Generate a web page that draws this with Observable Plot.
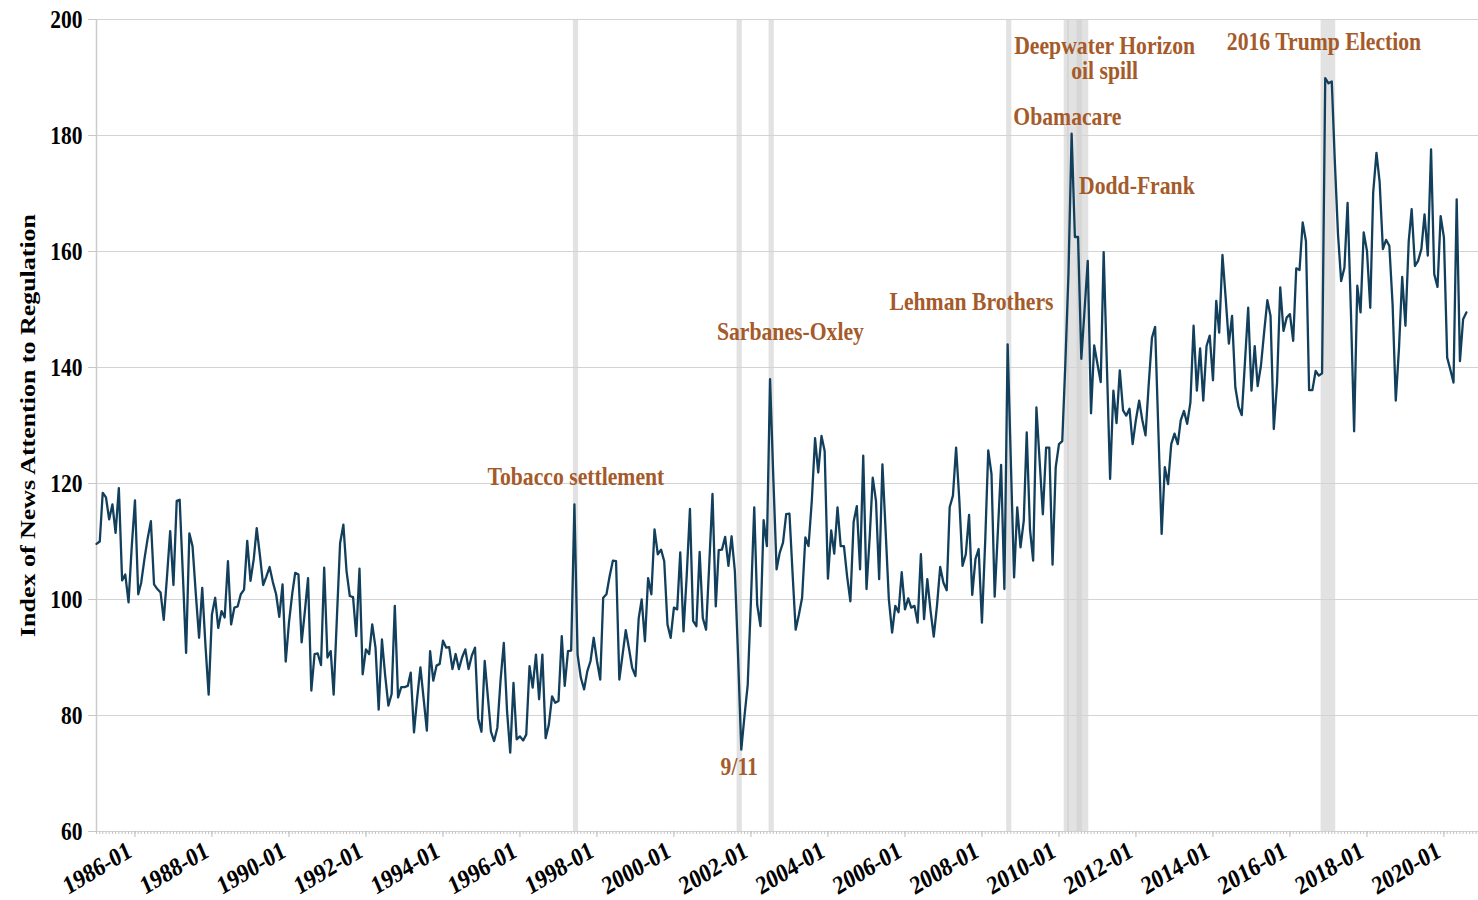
<!DOCTYPE html>
<html>
<head>
<meta charset="utf-8">
<script src="https://cdn.jsdelivr.net/npm/d3@7"></script>
<script src="https://cdn.jsdelivr.net/npm/@observablehq/plot@0.6"></script>
<style>
  html, body { margin: 0; padding: 0; background: #fff; }
  #chart { width: 1478px; height: 900px; }
</style>
</head>
<body>
<div id="chart"></div>
<script>
// ---- Data (monthly index, starting January 1985) ----
const firstMonth = "1985-01";
const regulationIndex = [
  109.6, 110, 118.4, 117.6, 113.8, 116.4, 111.5, 119.2, 103.3, 104.3, 99.5, 109,
  117.1, 100.9, 102.9, 107, 110.5, 113.5, 102.6, 101.8, 101.2, 96.5, 104, 111.8,
  102.5, 117, 117.2, 104, 90.8, 111.4, 109.2, 101, 93.4, 102, 92, 83.6,
  97.4, 100.3, 95.1, 98, 96.9, 106.6, 95.7, 98.6, 98.8, 100.9, 101.7, 110.1,
  103.2, 107, 112.3, 107.5, 102.5, 104, 105.6, 103, 100.9, 97, 102.6, 89.3,
  96, 101, 104.6, 104.3, 92.6, 98, 103.7, 84.3, 90.6, 90.7, 88.7, 105.5,
  90, 91.1, 83.6, 97, 109.7, 112.9, 104.9, 100.6, 100.4, 93.7, 105.3, 87.1,
  91.4, 90.6, 95.7, 91.7, 81, 93.1, 87, 81.7, 83.7, 98.9, 83.1, 84.9,
  84.9, 85.1, 87.4, 77.1, 83, 88.3, 83, 77.4, 91.1, 86, 88.6, 88.9,
  92.9, 91.7, 91.8, 88, 90.6, 88, 90, 91.4, 88, 90.3, 91.7, 79.5,
  77.2, 89.4, 83.6, 77.2, 75.6, 77.9, 86, 92.5, 80.7, 73.6, 85.6, 75.9,
  76.4, 75.7, 76.7, 88.5, 84.8, 90.5, 82.8, 90.5, 76.1, 78.4, 83.3, 82.2,
  82.5, 93.7, 85.1, 91.1, 91.2, 116.4, 90.5, 86.5, 84.5, 87.6, 89.4, 93.4,
  89.4, 86.2, 100.3, 100.9, 104, 106.7, 106.6, 86.2, 90.5, 94.7, 91.5, 88.2,
  86.8, 96.8, 100, 92.8, 103.7, 100.9, 112.1, 107.8, 108.6, 106.6, 95.7, 93.4,
  98.6, 98.3, 108.1, 94.5, 104, 115.6, 96.3, 95.4, 108.2, 96.8, 94.8, 106,
  118.2, 98.8, 108.5, 108.6, 110.8, 105.8, 110.9, 104.9, 90, 74.1, 80, 85.3,
  100, 115.9, 99.1, 95.4, 113.7, 109.2, 138, 121, 105.2, 108.1, 109.8, 114.7,
  114.8, 104, 94.8, 97.4, 100.3, 110.7, 109.2, 117, 127.8, 121.9, 128.2, 125.6,
  103.6, 111.9, 107.9, 115.9, 109.2, 109.2, 104, 99.7, 113.4, 116.1, 105.2, 124.8,
  101.8, 111, 121, 117, 103.5, 123.3, 112, 100, 94.3, 98.9, 97.8, 104.7,
  98.3, 100.2, 98.6, 98.9, 96, 107.8, 96.6, 103.5, 98, 93.6, 99, 105.6,
  102.9, 101.6, 115.9, 117.9, 126.2, 117, 105.8, 107.8, 114.6, 100.8, 107, 108.7,
  96, 110, 125.7, 121.6, 100.5, 112, 123.2, 101.8, 144, 124, 103.8, 115.9,
  109, 113.6, 128.8, 112.1, 106.7, 133.1, 124, 114.7, 126.2, 126.2, 106, 122.8,
  126.8, 127.3, 140, 156.1, 180.3, 162.5, 162.5, 141.5, 150, 158.4, 132.1, 143.8,
  140.6, 137.5, 159.9, 140, 120.8, 136, 130.4, 139.5, 132.6, 131.7, 132.9, 126.8,
  131, 134.3, 131, 128.3, 137, 145.1, 147, 129, 111.3, 122.8, 119.9, 126.8,
  128.6, 126.8, 130.9, 132.5, 130.3, 134, 147.2, 136, 143.3, 134.3, 143.7, 145.5,
  137.8, 151.5, 146, 159.4, 152.1, 144.1, 148.9, 136.6, 133.2, 131.8, 141.1, 150.3,
  136, 143.7, 136.8, 140.3, 146, 151.6, 148.9, 129.4, 137.4, 153.8, 146.3, 148.6,
  149.2, 144.6, 157.1, 156.8, 165, 161.8, 136.1, 136.1, 139.4, 138.6, 139, 189.9,
  189, 189.3, 176, 163, 154.9, 157.2, 168.4, 150, 129, 154.1, 149.5, 163.3,
  160.1, 150.3, 170.2, 177, 172, 160.4, 162, 161, 150.9, 134.3, 143.4, 155.6,
  147.2, 161.8, 167.3, 157.5, 158.4, 160.4, 166.4, 159.3, 177.6, 156.1, 153.9, 166.1,
  162.4, 141.7, 139.7, 137.4, 169, 141.1, 148.3, 149.5
];

// Event windows (shaded bands)
const eventNames  = ["Tobacco settlement", "9/11", "Sarbanes-Oxley", "Lehman Brothers", "Obamacare", "Deepwater Horizon oil spill", "Dodd-Frank", "2016 Trump Election"];
const eventStarts = ["1997-06", "2001-09", "2002-07", "2008-09", "2010-03", "2010-04", "2010-07", "2016-11"];
const eventEnds   = ["1997-07", "2001-10", "2002-08", "2008-10", "2010-04", "2010-10", "2010-08", "2017-03"];

// Annotation texts with anchor (date, index value)
const noteTexts = ["Tobacco settlement", "9/11", "Sarbanes-Oxley", "Lehman Brothers", "Obamacare", "Dodd-Frank", "Deepwater Horizon\noil spill", "2016 Trump Election"];
const noteDates = ["1997-06-15", "2001-09-12", "2003-01-10", "2007-09-24", "2010-03-21", "2012-01-10", "2011-03-10", "2016-11-19"];
const noteValues = [121.2, 71.2, 146.2, 151.4, 183.3, 171.4, 193.3, 196.2];

// Axes
const yTicks = [60, 80, 100, 120, 140, 160, 180, 200];
const xTickLabels = ["1986-01","1988-01","1990-01","1992-01","1994-01","1996-01","1998-01","2000-01","2002-01","2004-01","2006-01","2008-01","2010-01","2012-01","2014-01","2016-01","2018-01","2020-01"];
const xDomain = ["1985-01-01", "2020-11-24"];
const yLabel = "Index of News Attention to Regulation";

// ---- Build tables ----
const pm = d3.utcParse("%Y-%m");
const pd = d3.utcParse("%Y-%m-%d");
const start = pm(firstMonth);
const series = regulationIndex.map((v, i) => ({date: d3.utcMonth.offset(start, i), value: v}));
const events = eventNames.map((n, i) => ({name: n, start: pm(eventStarts[i]), end: pm(eventEnds[i])}));
const notes = noteTexts.map((t, i) => ({text: t, date: pd(noteDates[i]), value: noteValues[i]}));
const xTicks = xTickLabels.map((s) => ({date: pm(s), label: s}));
const dom = xDomain.map(pd);
const minorTicks = d3.utcMonth.range(dom[0], dom[1]);

const FONT = "Liberation Serif, Times New Roman, serif";
const ORANGE = "#a55a2a";

const chart = Plot.plot({
  width: 1478,
  height: 900,
  marginLeft: 96,
  marginRight: 0,
  marginTop: 19,
  marginBottom: 69,
  style: {fontFamily: FONT, fontSize: "21px", fontWeight: "bold", color: "#000", background: "#fff", overflow: "visible"},
  x: {type: "utc", domain: dom},
  y: {domain: [60, 200]},
  marks: [
    Plot.rect(events, {x1: "start", x2: "end", fill: "#cfcfcf", fillOpacity: 0.6, insetLeft: -1, insetRight: -1}),
    Plot.gridY(yTicks, {stroke: "#d3d3d3", strokeOpacity: 1, strokeWidth: 1}),
    Plot.ruleX([dom[0]], {stroke: "#cccccc", strokeWidth: 1.5}),
    Plot.axisX({ticks: minorTicks, tickSize: 3, tickFormat: () => "", stroke: "#c4c4c4", label: null}),
    Plot.axisX({ticks: xTicks.map((d) => d.date), tickSize: 6, tickFormat: () => "", stroke: "#bbbbbb", label: null}),
    Plot.text(xTicks, {x: "date", text: "label", frameAnchor: "bottom", dy: 20, dx: -5, rotate: -27, textAnchor: "end", lineAnchor: "middle", fill: "#000", fontSize: 22, fontWeight: "bold"}),
    Plot.axisY({ticks: yTicks, tickSize: 8, tickPadding: 6, stroke: "#c8c8c8", fill: "#000", label: null, fontSize: 21.5, fontWeight: "bold"}),
    Plot.lineY(series, {x: "date", y: "value", stroke: "#123f5c", strokeWidth: 2.3, strokeLinejoin: "round"}),
    Plot.text(notes, {x: "date", y: "value", text: "text", fill: ORANGE, fontSize: 21.7, fontWeight: "bold", textAnchor: "middle", lineAnchor: "middle", lineHeight: 1.0}),
    Plot.text([yLabel], {frameAnchor: "left", dx: -69, rotate: -90, fill: "#000", fontSize: 22, fontWeight: "bold", textAnchor: "middle", lineAnchor: "middle"})
  ]
});

document.getElementById("chart").append(chart);

// Vertical stretch of glyphs to match the reference's tall serif lettering
const S = 1.18;
chart.querySelectorAll("text").forEach(t => {
  const r = t.getBoundingClientRect();
  if (!r.width) return;
  const p = chart.createSVGPoint();
  p.x = r.left + r.width / 2; p.y = r.top + r.height / 2;
  const local = p.matrixTransform(t.parentNode.getScreenCTM().inverse());
  const g = document.createElementNS("http://www.w3.org/2000/svg", "g");
  g.setAttribute("transform", `translate(0,${local.y}) scale(1,${S}) translate(0,${-local.y})`);
  t.parentNode.insertBefore(g, t);
  g.appendChild(t);
});
</script>
</body>
</html>
